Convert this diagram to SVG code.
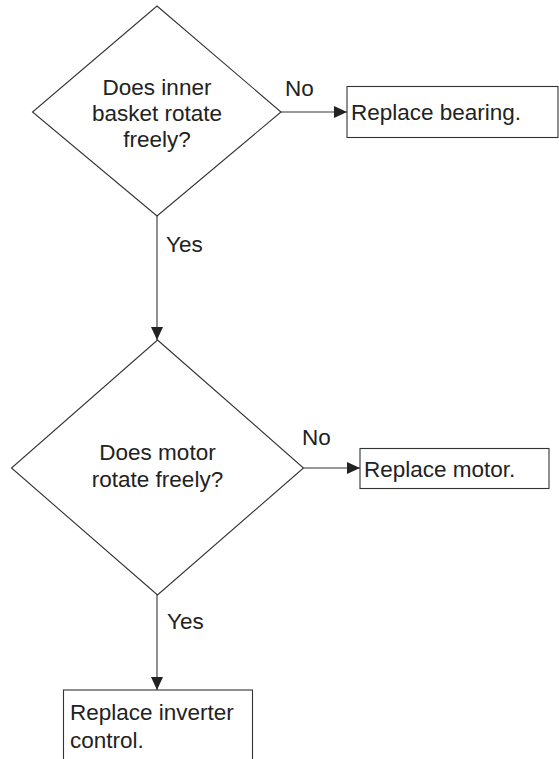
<svg xmlns="http://www.w3.org/2000/svg" width="559" height="759" viewBox="0 0 559 759">
<defs>
<style>
.shape{fill:#fff;stroke:#333;stroke-width:1.1}
.line{fill:none;stroke:#333;stroke-width:1.1}
text{font-family:"Liberation Sans",Arial,sans-serif;font-size:22.5px;fill:#222}
.c{text-anchor:middle}
</style>
<marker id="arr" markerWidth="13" markerHeight="12" refX="13" refY="6" orient="auto" markerUnits="userSpaceOnUse">
<path d="M0,0 L13,6 L0,12 Z" fill="#222"/>
</marker>
</defs>
<rect width="559" height="759" fill="#fff"/>
<g id="connectors">
<line class="line" x1="281" y1="112" x2="347" y2="112" marker-end="url(#arr)"/>
<text x="285" y="96">No</text>
<line class="line" x1="157" y1="216" x2="157" y2="340" marker-end="url(#arr)"/>
<text x="166" y="252">Yes</text>
<line class="line" x1="303.5" y1="468" x2="360" y2="468" marker-end="url(#arr)"/>
<text x="302" y="445">No</text>
<line class="line" x1="157" y1="595" x2="157" y2="690" marker-end="url(#arr)"/>
<text x="167" y="629">Yes</text>
</g>
<g id="q1">
<polygon class="shape" points="157,6 281,112 157,216 32.5,112"/>
<text class="c" x="157" y="95">Does inner</text>
<text class="c" x="157" y="121">basket rotate</text>
<text class="c" x="157" y="147">freely?</text>
</g>
<g id="bearing">
<rect class="shape" x="347" y="86.5" width="211" height="51"/>
<text x="351" y="120">Replace bearing.</text>
</g>
<g id="q2">
<polygon class="shape" points="157.5,340 303.5,468 157.5,595 11.5,468"/>
<text class="c" x="157.5" y="460">Does motor</text>
<text class="c" x="157.5" y="487">rotate freely?</text>
</g>
<g id="motor">
<rect class="shape" x="360" y="448.5" width="189" height="40"/>
<text x="364" y="477">Replace motor.</text>
</g>
<g id="inverter">
<rect class="shape" x="63.5" y="690" width="189" height="80"/>
<text x="70" y="720">Replace inverter</text>
<text x="70" y="748">control.</text>
</g>
</svg>
